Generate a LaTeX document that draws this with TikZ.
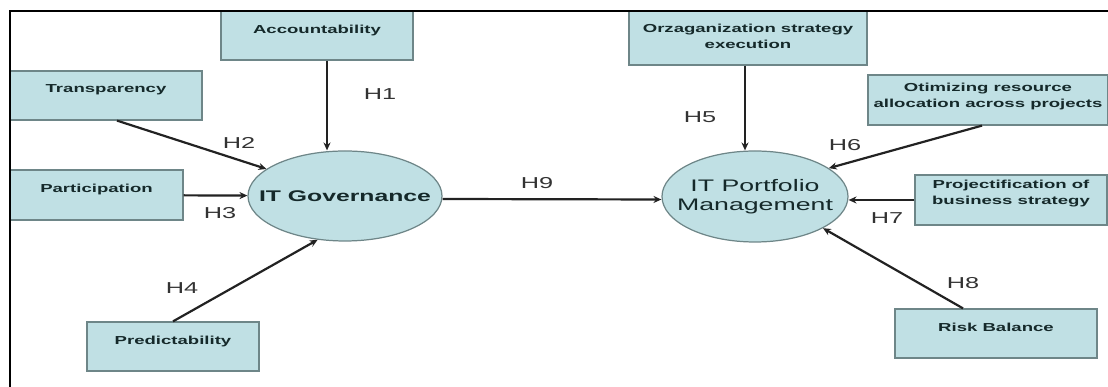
\documentclass[tikz,border=0pt]{standalone}
\usepackage{fontspec}
\newfontfamily\diagfont[FakeStretch=1.6]{Liberation Sans}
\usepackage{tikz}
\usetikzlibrary{arrows.meta, shapes.geometric, calc}
\definecolor{boxfill}{HTML}{C0E0E4}
\definecolor{boxline}{HTML}{6E8688}
\definecolor{boxtext}{HTML}{15292A}
\definecolor{arrline}{HTML}{222222}

\tikzset{
	factor/.style={draw=boxline, fill=boxfill, line width=0.7pt, inner sep=0pt, align=center,
		text=boxtext, font=\diagfont\bfseries\fontsize{6.6}{9}\selectfont, text depth=7.5pt},
	construct/.style={ellipse, draw=boxline, fill=boxfill, line width=0.7pt,
		inner xsep=-0.4cm, inner ysep=0pt, align=center, text=boxtext},
	hyp/.style={font=\diagfont\fontsize{9}{10}\selectfont, text=black!80},
	arr/.style={-{Stealth[length=4.5pt,width=4pt]}, line width=1.25pt, draw=arrline}
}

\begin{document}
\begin{tikzpicture}
			\useasboundingbox (0,0) rectangle (22.16,7.74);
			% left side factors
			\node[factor, minimum width=3.84cm, minimum height=0.98cm] (acc) at (6.34,7.03) {Accountability};
			\node[factor, minimum width=3.84cm, minimum height=0.98cm] (tra) at (2.12,5.83) {Transparency};
			\node[factor, minimum width=3.46cm, minimum height=1cm] (par) at (1.93,3.84) {Participation};
			\node[factor, minimum width=3.44cm, minimum height=0.98cm] (pre) at (3.46,0.81) {Predictability};
			% right side factors
			\node[factor, minimum width=4.76cm, minimum height=1.08cm, text depth=2.3pt] (org) at (14.96,6.98) {Orzaganization strategy\\execution};
			\node[factor, minimum width=4.8cm, minimum height=1cm, text depth=5.1pt] (opt) at (19.76,5.74) {Otimizing resource\\allocation across projects};
			\node[factor, minimum width=3.84cm, minimum height=1cm, text depth=8.5pt] (pro) at (20.22,3.74) {Projectification of\\business strategy};
			\node[factor, minimum width=4.04cm, minimum height=0.98cm] (risk) at (19.92,1.07) {Risk Balance};
			% constructs
			\node[construct, minimum width=3.88cm, minimum height=1.8cm, font=\diagfont\bfseries\fontsize{8.8}{10}\selectfont] (itg) at (6.9,3.82) {IT Governance};
			\node[construct, minimum width=3.72cm, minimum height=1.82cm, font=\diagfont\fontsize{9.5}{10.8}\selectfont] (itpm) at (15.1,3.81) {IT Portfolio\\Management};
			
			\draw[arr] ([xshift=0.2cm]acc.south) -- ([xshift=0.2cm]acc.south |- itg.north);
			\draw[arr] ([xshift=0.22cm]tra.south) -- (itg.161);
			\draw[arr] (par) -- (itg);
			\draw[arr] (pre.north) -- (itg.238);
			\draw[arr] ([yshift=-0.06cm]itg.east) -- ([yshift=-0.06cm]itpm.west);
			\draw[arr] ([xshift=-0.06cm]org.south) -- ([xshift=-0.06cm]org.south |- itpm.north);
			\draw[arr] ([xshift=-0.12cm]opt.south) -- (itpm.21);
			\draw[arr] (pro.west) -- (pro.west -| itpm.east);
			\draw[arr] ([xshift=-0.66cm]risk.north) -- (itpm.335);
			
			\node[hyp] (h1) at (7.6,5.86) {H1};
			\node[hyp] (h2) at (4.78,4.88) {H2};
			\node[hyp] (h3) at (4.4,3.48) {H3};
			\node[hyp] (h4) at (3.64,1.98) {H4};
			\node[hyp] (h5) at (14,5.4) {H5};
			\node[hyp] (h6) at (16.9,4.84) {H6};
			\node[hyp] (h7) at (17.74,3.38) {H7};
			\node[hyp] (h8) at (19.26,2.08) {H8};
			\node[hyp] (h9) at (10.74,4.08) {H9};
			
			% frame
			\draw[line width=1.1pt] (22.16,7.52) -- (0.2,7.52) -- (0.2,0);
		\end{tikzpicture}
\end{document}
